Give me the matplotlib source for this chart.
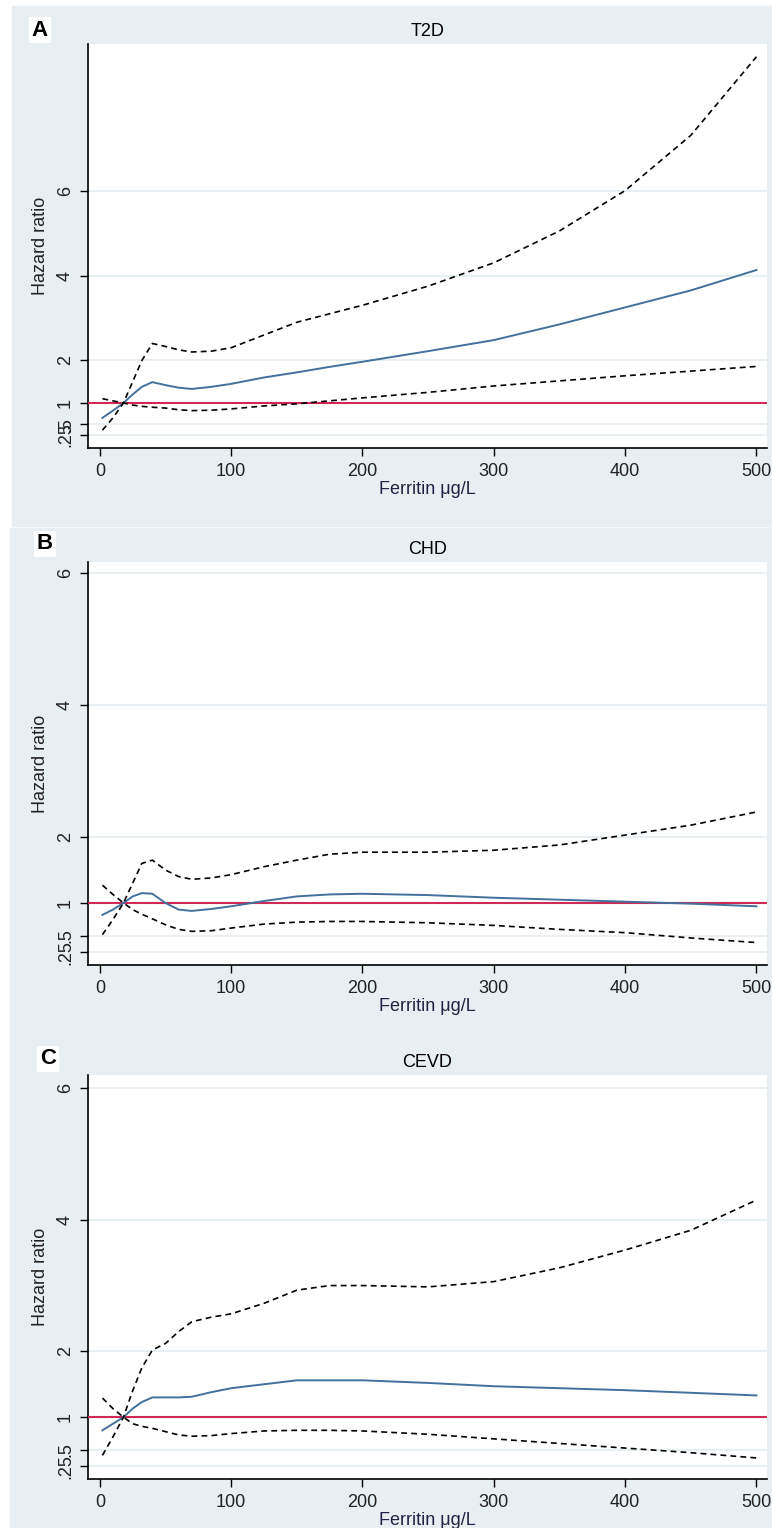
import matplotlib.pyplot as plt
from matplotlib.patches import Rectangle

plt.rcParams['font.family'] = ['Liberation Sans', 'DejaVu Sans']

ferritin = [2, 10, 18, 25, 32, 40, 50, 60, 70, 85, 100, 125, 150, 175, 200,
            250, 300, 350, 400, 450, 500]

t2d_hr = [0.65, 0.82, 1.0, 1.2, 1.38, 1.49, 1.42, 1.36, 1.33, 1.38, 1.45, 1.6,
          1.72, 1.85, 1.97, 2.22, 2.48, 2.85, 3.25, 3.65, 4.13]
t2d_ci1 = [0.36, 0.65, 1.0, 1.5, 2.0, 2.4, 2.33, 2.25, 2.2, 2.22, 2.3, 2.6,
           2.9, 3.1, 3.3, 3.75, 4.3, 5.05, 6.0, 7.3, 9.15]
t2d_ci2 = [1.1, 1.05, 1.0, 0.95, 0.92, 0.9, 0.88, 0.84, 0.82, 0.83, 0.86, 0.93,
           0.98, 1.05, 1.12, 1.25, 1.4, 1.52, 1.64, 1.75, 1.86]

chd_hr = [0.82, 0.9, 1.0, 1.1, 1.15, 1.14, 1.0, 0.9, 0.88, 0.91, 0.95, 1.03,
          1.1, 1.13, 1.14, 1.12, 1.08, 1.05, 1.02, 0.99, 0.95]
chd_ci1 = [0.52, 0.75, 1.0, 1.3, 1.6, 1.65, 1.5, 1.4, 1.36, 1.38, 1.43, 1.55,
           1.65, 1.74, 1.77, 1.77, 1.8, 1.88, 2.03, 2.18, 2.38]
chd_ci2 = [1.27, 1.13, 1.0, 0.9, 0.83, 0.76, 0.67, 0.6, 0.57, 0.58, 0.62, 0.68,
           0.71, 0.72, 0.72, 0.7, 0.66, 0.6, 0.55, 0.47, 0.4]

cevd_hr = [0.8, 0.9, 1.0, 1.13, 1.23, 1.3, 1.3, 1.3, 1.31, 1.38, 1.44, 1.5,
           1.56, 1.56, 1.56, 1.52, 1.47, 1.44, 1.41, 1.37, 1.33]
cevd_ci1 = [0.42, 0.7, 1.0, 1.4, 1.75, 2.02, 2.12, 2.3, 2.45, 2.52, 2.57, 2.73,
            2.93, 3.0, 3.0, 2.98, 3.06, 3.27, 3.54, 3.84, 4.3]
cevd_ci2 = [1.29, 1.13, 1.0, 0.9, 0.86, 0.83, 0.78, 0.73, 0.71, 0.72, 0.75, 0.79,
            0.8, 0.8, 0.79, 0.74, 0.67, 0.6, 0.53, 0.46, 0.38]

yticks = [0.25, 0.5, 1, 2, 4, 6]
yticklabels = ['.25', '.5', '1', '2', '4', '6']
xticks = [0, 100, 200, 300, 400, 500]

W, H = 772, 1528
fig = plt.figure(figsize=(W / 100, H / 100), dpi=100)
fig.patch.set_facecolor('white')

bg = '#e8eff2'
fig.patches.append(Rectangle((12 / W, 1 - 526 / H), 760 / W, 520 / H,
                             transform=fig.transFigure, color=bg, zorder=-10))
fig.patches.append(Rectangle((10 / W, 0), 762 / W, 1 - 528 / H,
                             transform=fig.transFigure, color=bg, zorder=-10))

panels = [
    ('A', 'T2D', t2d_hr, t2d_ci1, t2d_ci2, 44, 448, (-0.06, 9.45), (40, 30)),
    ('B', 'CHD', chd_hr, chd_ci1, chd_ci2, 562, 965, (0.06, 6.17), (45, 544)),
    ('C', 'CEVD', cevd_hr, cevd_ci1, cevd_ci2, 1075, 1479, (0.06, 6.2), (48, 1059)),
]

fs = 13

for letter, title, hr, ci1, ci2, top, bottom, ylim, lpos in panels:
    ax = fig.add_axes([88 / W, 1 - bottom / H, 679 / W, (bottom - top) / H])
    ax.set_facecolor('white')
    ax.set_xlim(-9, 508)
    ax.set_ylim(*ylim)
    for yv in yticks:
        ax.axhline(yv, color='#e3ecf1', lw=1.2, zorder=1)
    ax.axhline(1, color='#cf2a55', lw=1.5, zorder=3)
    ax.plot(ferritin, hr, color='#44709c', lw=1.4, zorder=4)
    ax.plot(ferritin, ci1, color='black', lw=1.2, ls=(0, (3.5, 2.5)), zorder=4)
    ax.plot(ferritin, ci2, color='black', lw=1.2, ls=(0, (3.5, 2.5)), zorder=4)

    ax.set_xticks(xticks)
    ax.set_yticks(yticks)
    ax.set_yticklabels(yticklabels, rotation=90, va='center')
    ax.tick_params(axis='both', length=6, width=1, color='black',
                   labelsize=fs, labelcolor='#222222')
    ax.tick_params(axis='x', pad=5)
    ax.tick_params(axis='y', pad=4)
    for s in ['top', 'right']:
        ax.spines[s].set_visible(False)
    for s in ['left', 'bottom']:
        ax.spines[s].set_linewidth(1.2)

    ax.set_title(title, fontsize=fs, pad=6)
    ax.set_xlabel('Ferritin \u03bcg/L', fontsize=fs, color='#222244')
    ax.xaxis.set_label_coords(0.5, -33 / (bottom - top))
    ax.set_ylabel('Hazard ratio', fontsize=fs, color='#222222')
    ax.yaxis.set_label_coords(-39 / 679, 0.5)

    fig.text(lpos[0] / W, 1 - lpos[1] / H, letter, fontsize=16, fontweight='bold',
             ha='center', va='center',
             bbox=dict(facecolor='white', edgecolor='none', pad=2))

fig.savefig('out.png', dpi=100)
